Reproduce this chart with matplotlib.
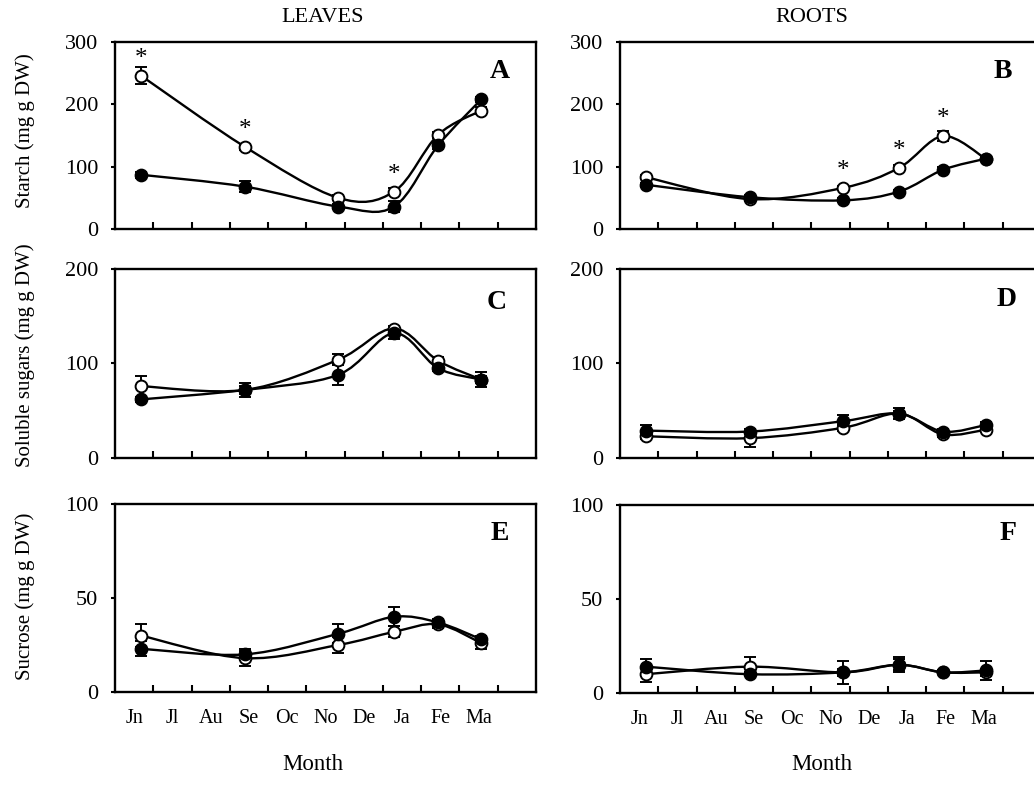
import numpy as np
import matplotlib
matplotlib.use("Agg")
import matplotlib.pyplot as plt
from matplotlib.path import Path
from matplotlib.patches import PathPatch

plt.rcParams['font.family'] = ['Liberation Serif', 'DejaVu Serif']

# sampling dates, in months from the start of June
sample_x = [0.68, 3.39, 5.83, 7.29, 8.44, 9.57]
months = ["Jn", "Jl", "Au", "Se", "Oc", "No", "De", "Ja", "Fe", "Ma"]

# open circles / filled circles, with error bars
starch_leaf_open = [246, 132, 50, 60, 151, 190]
starch_leaf_open_err = [14, 5, 4, 6, 5, 6]
starch_leaf_fill = [87, 68, 36, 36, 134, 208]
starch_leaf_fill_err = [5, 9, 4, 9, 5, 4]

starch_root_open = [83, 48, 66, 98, 149, 112]
starch_root_open_err = [3, 3, 3, 4, 8, 3]
starch_root_fill = [71, 51, 46, 60, 95, 113]
starch_root_fill_err = [3, 4, 3, 3, 4, 4]

sol_leaf_open = [76, 72, 104, 137, 103, 83]
sol_leaf_open_err = [11, 4, 6, 3, 4, 4]
sol_leaf_fill = [62, 72, 88, 132, 95, 83]
sol_leaf_fill_err = [3, 7, 11, 6, 3, 8]

sol_root_open = [23, 21, 32, 47, 25, 30]
sol_root_open_err = [3, 9, 3, 3, 3, 3]
sol_root_fill = [29, 28, 39, 47, 28, 35]
sol_root_fill_err = [6, 3, 7, 6, 3, 3]

suc_leaf_open = [30, 18, 25, 32, 36, 26]
suc_leaf_open_err = [6, 4, 4, 3, 2, 3]
suc_leaf_fill = [23, 20, 31, 40, 37, 28]
suc_leaf_fill_err = [4, 3, 5, 5, 2, 2]

suc_root_open = [10, 14, 11, 15, 11, 11]
suc_root_open_err = [4, 5, 2, 3, 1, 2]
suc_root_fill = [14, 10, 11, 15, 11, 12]
suc_root_fill_err = [4, 1, 6, 4, 1, 5]

# asterisks (index of sampling date) above open circles
stars_a = [0, 1, 3]
stars_b = [2, 3, 4]

W, H = 1034, 785


def smooth_path(x, y):
    pts = np.column_stack([x, y]).astype(float)
    n = len(pts)
    verts = [pts[0]]
    codes = [Path.MOVETO]
    for i in range(n - 1):
        p0 = pts[i - 1] if i > 0 else pts[i]
        p1 = pts[i]
        p2 = pts[i + 1]
        p3 = pts[i + 2] if i + 2 < n else pts[i + 1]
        verts += [p1 + (p2 - p0) / 6, p2 - (p3 - p1) / 6, p2]
        codes += [Path.CURVE4] * 3
    return Path(verts, codes)


def draw_series(ax, y, err, filled):
    ax.add_patch(PathPatch(smooth_path(sample_x, y), facecolor="none",
                           edgecolor="black", lw=1.7, zorder=2))
    ax.errorbar(sample_x, y, yerr=err, fmt="none", ecolor="black",
                elinewidth=1.4, capsize=4.5, capthick=1.4, zorder=3)
    ax.plot(sample_x, y, "o", ms=8.5, mec="black", mew=1.4,
            mfc="black" if filled else "white", zorder=4)


def make_axes(px_left, px_top, px_bottom, ymax, yticks, letter, lx, ly, show_months):
    ax = fig.add_axes([px_left / W, 1 - px_bottom / H, 421 / W, (px_bottom - px_top) / H])
    ax.set_xlim(0, 11)
    ax.set_ylim(0, ymax)
    ax.set_xticks(range(1, 11))
    ax.set_xticklabels([])
    ax.set_xticks([i + 0.5 for i in range(10)], minor=True)
    if show_months:
        ax.set_xticklabels(months, minor=True, fontsize=14.5)
    ax.tick_params(axis="x", which="major", direction="in", length=5, width=1.5)
    ax.tick_params(axis="x", which="minor", length=0, pad=12)
    ax.set_yticks(yticks)
    ax.tick_params(axis="y", direction="out", length=3, width=1.5, labelsize=16, pad=9)
    for s in ax.spines.values():
        s.set_linewidth(1.7)
    ax.text((lx - px_left) / 421, (px_bottom - ly) / (px_bottom - px_top), letter,
            transform=ax.transAxes, fontsize=20, fontweight="bold", ha="center", va="center")
    return ax


fig = plt.figure(figsize=(W / 100, H / 100), dpi=100)

ax_a = make_axes(115, 42, 229, 300, [0, 100, 200, 300], "A", 500, 71, False)
draw_series(ax_a, starch_leaf_open, starch_leaf_open_err, False)
draw_series(ax_a, starch_leaf_fill, starch_leaf_fill_err, True)

ax_b = make_axes(620, 42, 229, 300, [0, 100, 200, 300], "B", 1003, 72, False)
draw_series(ax_b, starch_root_open, starch_root_open_err, False)
draw_series(ax_b, starch_root_fill, starch_root_fill_err, True)

ax_c = make_axes(115, 269, 458, 200, [0, 100, 200], "C", 497, 303, False)
draw_series(ax_c, sol_leaf_open, sol_leaf_open_err, False)
draw_series(ax_c, sol_leaf_fill, sol_leaf_fill_err, True)

ax_d = make_axes(620, 269, 458, 200, [0, 100, 200], "D", 1007, 300, False)
draw_series(ax_d, sol_root_open, sol_root_open_err, False)
draw_series(ax_d, sol_root_fill, sol_root_fill_err, True)

ax_e = make_axes(115, 504, 692, 100, [0, 50, 100], "E", 500, 533, True)
draw_series(ax_e, suc_leaf_open, suc_leaf_open_err, False)
draw_series(ax_e, suc_leaf_fill, suc_leaf_fill_err, True)

ax_f = make_axes(620, 505, 693, 100, [0, 50, 100], "F", 1008, 533, True)
draw_series(ax_f, suc_root_open, suc_root_open_err, False)
draw_series(ax_f, suc_root_fill, suc_root_fill_err, True)

for ax, idx, vals in [(ax_a, stars_a, starch_leaf_open), (ax_b, stars_b, starch_root_open)]:
    for i in idx:
        ax.annotate("*", (sample_x[i], vals[i]), xytext=(0, 12), textcoords="offset points",
                    ha="center", va="center", fontsize=18)

fig.text(323 / W, 1 - 17 / H, "LEAVES", ha="center", va="center", fontsize=16)
fig.text(812 / W, 1 - 17 / H, "ROOTS", ha="center", va="center", fontsize=16)
fig.text(313 / W, 1 - 765 / H, "Month", ha="center", va="center", fontsize=16.5)
fig.text(822 / W, 1 - 765 / H, "Month", ha="center", va="center", fontsize=16.5)
fig.text(25 / W, 1 - 131 / H, "Starch (mg g DW)", rotation=90, ha="center", va="center", fontsize=15)
fig.text(25 / W, 1 - 355 / H, "Soluble sugars (mg g DW)", rotation=90, ha="center", va="center", fontsize=15)
fig.text(25 / W, 1 - 596 / H, "Sucrose (mg g DW)", rotation=90, ha="center", va="center", fontsize=15)

fig.savefig("out.png", dpi=100)
